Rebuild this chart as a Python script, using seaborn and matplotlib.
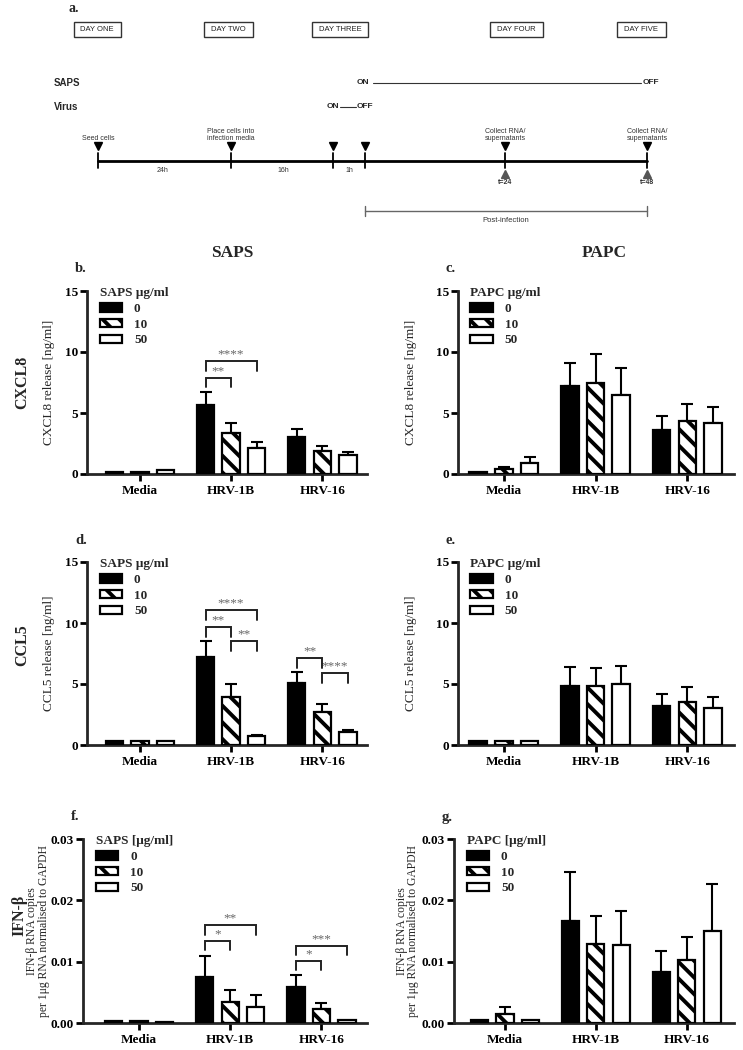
import numpy as np
import pandas as pd
import matplotlib
matplotlib.use('Agg')
import matplotlib.pyplot as plt
import seaborn as sns

# ---------------- DATA ----------------
groups = ['Media', 'HRV-1B', 'HRV-16']
doses = ['0', '10', '50']

# mean values per dose (rows) x group (cols); upper error bar tops (mean + SEM)
b_mean = [[0.16, 5.66, 3.00], [0.16, 3.39, 1.88], [0.33, 2.15, 1.55]]
b_top = [[0.16, 6.75, 3.68], [0.16, 4.15, 2.32], [0.33, 2.65, 1.83]]
c_mean = [[0.14, 7.20, 3.57], [0.40, 7.47, 4.36], [0.87, 6.46, 4.15]]
c_top = [[0.14, 9.10, 4.75], [0.60, 9.80, 5.73], [1.42, 8.70, 5.50]]
d_mean = [[0.33, 7.23, 5.05], [0.33, 3.95, 2.73], [0.33, 0.76, 1.09]]
d_top = [[0.33, 8.54, 6.00], [0.33, 4.96, 3.35], [0.33, 0.82, 1.23]]
e_mean = [[0.30, 4.83, 3.19], [0.30, 4.83, 3.55], [0.30, 4.99, 3.00]]
e_top = [[0.30, 6.40, 4.17], [0.30, 6.35, 4.72], [0.30, 6.49, 3.90]]
f_mean = [[0.0004, 0.0075, 0.0059], [0.0003, 0.0035, 0.0023], [0.0001, 0.0026, 0.0005]]
f_top = [[0.0004, 0.0110, 0.0079], [0.0003, 0.0054, 0.0032], [0.0001, 0.0045, 0.0005]]
g_mean = [[0.0005, 0.0166, 0.0083], [0.0015, 0.0129, 0.0102], [0.0005, 0.0127, 0.0150]]
g_top = [[0.0005, 0.0247, 0.0118], [0.0026, 0.0174, 0.0141], [0.0005, 0.0183, 0.0227]]

# significance brackets: (group index, dose i, dose j, bracket height, label)
b_sig = [(1, 0, 1, 7.9, '**'), (1, 0, 2, 9.23, '****')]
d_sig = [(1, 0, 1, 9.68, '**'), (1, 1, 2, 8.5, '**'), (1, 0, 2, 11.04, '****'),
         (2, 0, 1, 7.14, '**'), (2, 1, 2, 5.92, '****')]
f_sig = [(1, 0, 1, 0.01337, '*'), (1, 0, 2, 0.01592, '**'),
         (2, 0, 1, 0.0101, '*'), (2, 0, 2, 0.01255, '***')]

yticks_ng = [0, 5, 10, 15]
yticks_ifn = [0.00, 0.01, 0.02, 0.03]

# timeline (schematic) content
day_labels = ['DAY ONE', 'DAY TWO', 'DAY THREE', 'DAY FOUR', 'DAY FIVE']
duration_labels = ['24h', '16h', '1h']

# ---------------- STYLE ----------------
sns.set_theme(style='ticks')
plt.rcParams['font.family'] = ['Liberation Serif', 'DejaVu Serif']
plt.rcParams['hatch.linewidth'] = 2.8
plt.rcParams['axes.linewidth'] = 2.0

W, H = 743, 1050
fig = plt.figure(figsize=(W / 100, H / 100), dpi=100)
fig.patch.set_facecolor('white')


def fx(x):
    return x / W


def fy(y):
    return 1 - y / H


SANS = ['Liberation Sans Narrow', 'Liberation Sans', 'DejaVu Sans']
SERIF = ['Liberation Serif', 'DejaVu Serif']

# ---------------- TIMELINE (panel a) ----------------
ax0 = fig.add_axes([0, 0, 1, 1])
ax0.set_xlim(0, W)
ax0.set_ylim(H, 0)
ax0.axis('off')
ax0.patch.set_alpha(0)

ax0.text(74, 9, 'a.', family=SERIF, weight='bold', fontsize=10, ha='center', va='center')
day_x = [97, 228, 340, 516, 641]
day_w = [47, 49, 56, 53, 49]
for lab, x, w in zip(day_labels, day_x, day_w):
    ax0.add_patch(plt.Rectangle((x - w / 2, 22), w, 15, fill=False, ec='#333333', lw=1.0))
    ax0.text(x, 29.5, lab, family=SANS, fontsize=5.5, ha='center', va='center', color='#222222')

ax0.text(54, 83, 'SAPS', family=SANS, fontsize=7, weight='bold', ha='left', va='center')
ax0.text(363, 83, 'ON', family=SANS, fontsize=6, weight='bold', ha='center', va='center')
ax0.plot([373, 641], [83, 83], color='#333333', lw=0.8)
ax0.text(643, 83, 'OFF', family=SANS, fontsize=6, weight='bold', ha='left', va='center')
ax0.text(54, 107, 'Virus', family=SANS, fontsize=7, weight='bold', ha='left', va='center')
ax0.text(339, 107, 'ON', family=SANS, fontsize=6, weight='bold', ha='right', va='center')
ax0.plot([340, 356], [107, 107], color='#333333', lw=0.8)
ax0.text(357, 107, 'OFF', family=SANS, fontsize=6, weight='bold', ha='left', va='center')

tl_y = 161
ev_x = [98, 231, 333, 365, 505, 647]
ax0.plot([ev_x[0], ev_x[-1]], [tl_y, tl_y], color='black', lw=2.0)
for x in ev_x:
    ax0.plot([x, x], [tl_y - 8, tl_y + 7], color='black', lw=1.3)
    ax0.plot([x], [146], marker='v', color='black', markersize=6)
ev_text = {98: 'Seed cells', 231: 'Place cells into\ninfection media',
           505: 'Collect RNA/\nsupernatants', 647: 'Collect RNA/\nsupernatants'}
for x, t in ev_text.items():
    ax0.text(x, 142, t, family=SANS, fontsize=5, ha='center', va='bottom',
             color='#333333', linespacing=1.05)
for x, t in zip([163, 283, 349], duration_labels):
    ax0.text(x, 171, t, family=SANS, fontsize=5, ha='center', va='center', color='#333333')
for x, t in zip([505, 647], ['t=24', 't=48']):
    ax0.plot([x], [174], marker='^', color='#555555', markersize=6)
    ax0.text(x, 183, t, family=SANS, fontsize=5, weight='bold', ha='center', va='center',
             color='#333333')
ax0.plot([365, 647], [211, 211], color='#666666', lw=1.0)
ax0.plot([365, 365], [206, 216], color='#666666', lw=1.0)
ax0.plot([647, 647], [206, 216], color='#666666', lw=1.0)
ax0.text(506, 220, 'Post-infection', family=SANS, fontsize=5.5, ha='center', va='center',
         color='#333333')

# ---------------- HEADERS ----------------
fig.text(fx(232), fy(253), 'SAPS', family=SERIF, weight='bold', fontsize=12.5, ha='center', va='center')
fig.text(fx(604), fy(253), 'PAPC', family=SERIF, weight='bold', fontsize=12.5, ha='center', va='center')
for t, x, y in [('CXCL8', 22, 382), ('CCL5', 22, 645), ('IFN-β', 19, 915)]:
    fig.text(fx(x), fy(y), t, family=SERIF, weight='bold', fontsize=11.5, rotation=90,
             ha='center', va='center')

# ---------------- BAR PANELS ----------------
panels = [
    dict(L='b.', box=(87, 367, 291, 474), xl=(-0.58, 2.49), mean=b_mean, top=b_top, sig=b_sig,
         yt=yticks_ng, ylim=15, agent='SAPS μg/ml', ylabel='CXCL8 release [ng/ml]', lx=-0.115,
         fmt='{:g}', leg=0.8, lfs=9.5),
    dict(L='c.', box=(458, 734, 291, 474), xl=(-0.50, 2.51), mean=c_mean, top=c_top, sig=[],
         yt=yticks_ng, ylim=15, agent='PAPC μg/ml', ylabel='CXCL8 release [ng/ml]', lx=-0.15,
         fmt='{:g}', leg=0.8, lfs=9.5),
    dict(L='d.', box=(87, 367, 562, 745), xl=(-0.58, 2.49), mean=d_mean, top=d_top, sig=d_sig,
         yt=yticks_ng, ylim=15, agent='SAPS μg/ml', ylabel='CCL5 release [ng/ml]', lx=-0.115,
         fmt='{:g}', leg=0.8, lfs=9.5),
    dict(L='e.', box=(458, 734, 562, 745), xl=(-0.50, 2.51), mean=e_mean, top=e_top, sig=[],
         yt=yticks_ng, ylim=15, agent='PAPC μg/ml', ylabel='CCL5 release [ng/ml]', lx=-0.15,
         fmt='{:g}', leg=0.8, lfs=9.5),
    dict(L='f.', box=(83, 367, 839, 1023), xl=(-0.615, 2.5), mean=f_mean, top=f_top, sig=f_sig,
         yt=yticks_ifn, ylim=0.03, agent='SAPS [μg/ml]',
         ylabel='IFN-β RNA copies\nper 1μg RNA normalised to GAPDH', lx=-0.117,
         fmt='{:.2f}', leg=0.0015, lfs=8.4),
    dict(L='g.', box=(454, 734, 839, 1023), xl=(-0.56, 2.52), mean=g_mean, top=g_top, sig=[],
         yt=yticks_ifn, ylim=0.03, agent='PAPC [μg/ml]',
         ylabel='IFN-β RNA copies\nper 1μg RNA normalised to GAPDH', lx=-0.125,
         fmt='{:.2f}', leg=0.0015, lfs=8.4),
]

for p in panels:
    l, r, t, b = p['box']
    ax = fig.add_axes([fx(l), fy(b), (r - l) / W, (b - t) / H])
    ax.patch.set_alpha(0)
    rows = []
    for di, d in enumerate(doses):
        for gi, g in enumerate(groups):
            rows.append(dict(group=g, dose=d, value=p['mean'][di][gi]))
    df = pd.DataFrame(rows)
    sns.barplot(data=df, x='group', y='value', hue='dose', order=groups, hue_order=doses,
                palette=['black', 'white', 'white'], edgecolor='black', linewidth=1.6,
                width=0.84, gap=0.32, errorbar=None, ax=ax, legend=False, zorder=3)
    conts = list(ax.containers[:len(doses)])
    for patch in conts[1]:
        patch.set_hatch('\\\\')
    # error bars (upper only)
    for di, cont in enumerate(conts):
        xs, ys, es = [], [], []
        for gi, patch in enumerate(cont):
            e = p['top'][di][gi] - p['mean'][di][gi]
            if e > 0:
                xs.append(patch.get_x() + patch.get_width() / 2)
                ys.append(p['mean'][di][gi])
                es.append(e)
        if xs:
            ax.errorbar(xs, ys, yerr=[np.zeros(len(es)), es], fmt='none', ecolor='black',
                        elinewidth=1.5, capsize=4, capthick=1.5, zorder=2)
    # significance brackets
    for gi, i, j, h, lab in p['sig']:
        x1 = conts[i][gi].get_x() + conts[i][gi].get_width() / 2
        x2 = conts[j][gi].get_x() + conts[j][gi].get_width() / 2
        ax.plot([x1, x1, x2, x2], [h - p['leg'], h, h, h - p['leg']], color='#222222',
                lw=1.4, solid_joinstyle='miter', zorder=4)
        ax.text((x1 + x2) / 2, h + p['ylim'] * 0.004, lab, ha='center', va='bottom',
                fontsize=9.5, color='#666666', family=SERIF)
    ax.set_xlim(*p['xl'])
    ax.set_ylim(0, p['ylim'])
    ax.set_yticks(p['yt'])
    ax.set_yticklabels([p['fmt'].format(v) for v in p['yt']])
    ax.set_xlabel('')
    ax.set_ylabel(p['ylabel'], family=SERIF, fontsize=p['lfs'], linespacing=0.92)
    ax.yaxis.set_label_coords(p['lx'], 0.5)
    sns.despine(ax=ax)
    ax.spines['left'].set_linewidth(2.0)
    ax.spines['bottom'].set_linewidth(2.0)
    ax.tick_params(axis='both', direction='out', length=5, width=2.0, pad=1.5,
                   labelsize=9.5, colors='black')
    for tl in ax.get_xticklabels() + ax.get_yticklabels():
        tl.set_fontweight('bold')
        tl.set_family(SERIF)
    ax.tick_params(axis='x', pad=3)
    leg = ax.legend(handles=conts, labels=doses, title=p['agent'], loc='upper left',
                    bbox_to_anchor=(0.045, 1.02), frameon=False, alignment='left',
                    handlelength=1.7, handleheight=0.6, handletextpad=0.9,
                    labelspacing=0.28, borderaxespad=0, borderpad=0,
                    prop=dict(family=SERIF, weight='bold', size=9.5),
                    title_fontproperties=dict(family=SERIF, weight='bold', size=9.5))
    fig.text(fx(l - 12), fy(t - 22), p['L'], family=SERIF, weight='bold', fontsize=10.5,
             ha='left', va='center')

fig.savefig('out.png', dpi=100)
